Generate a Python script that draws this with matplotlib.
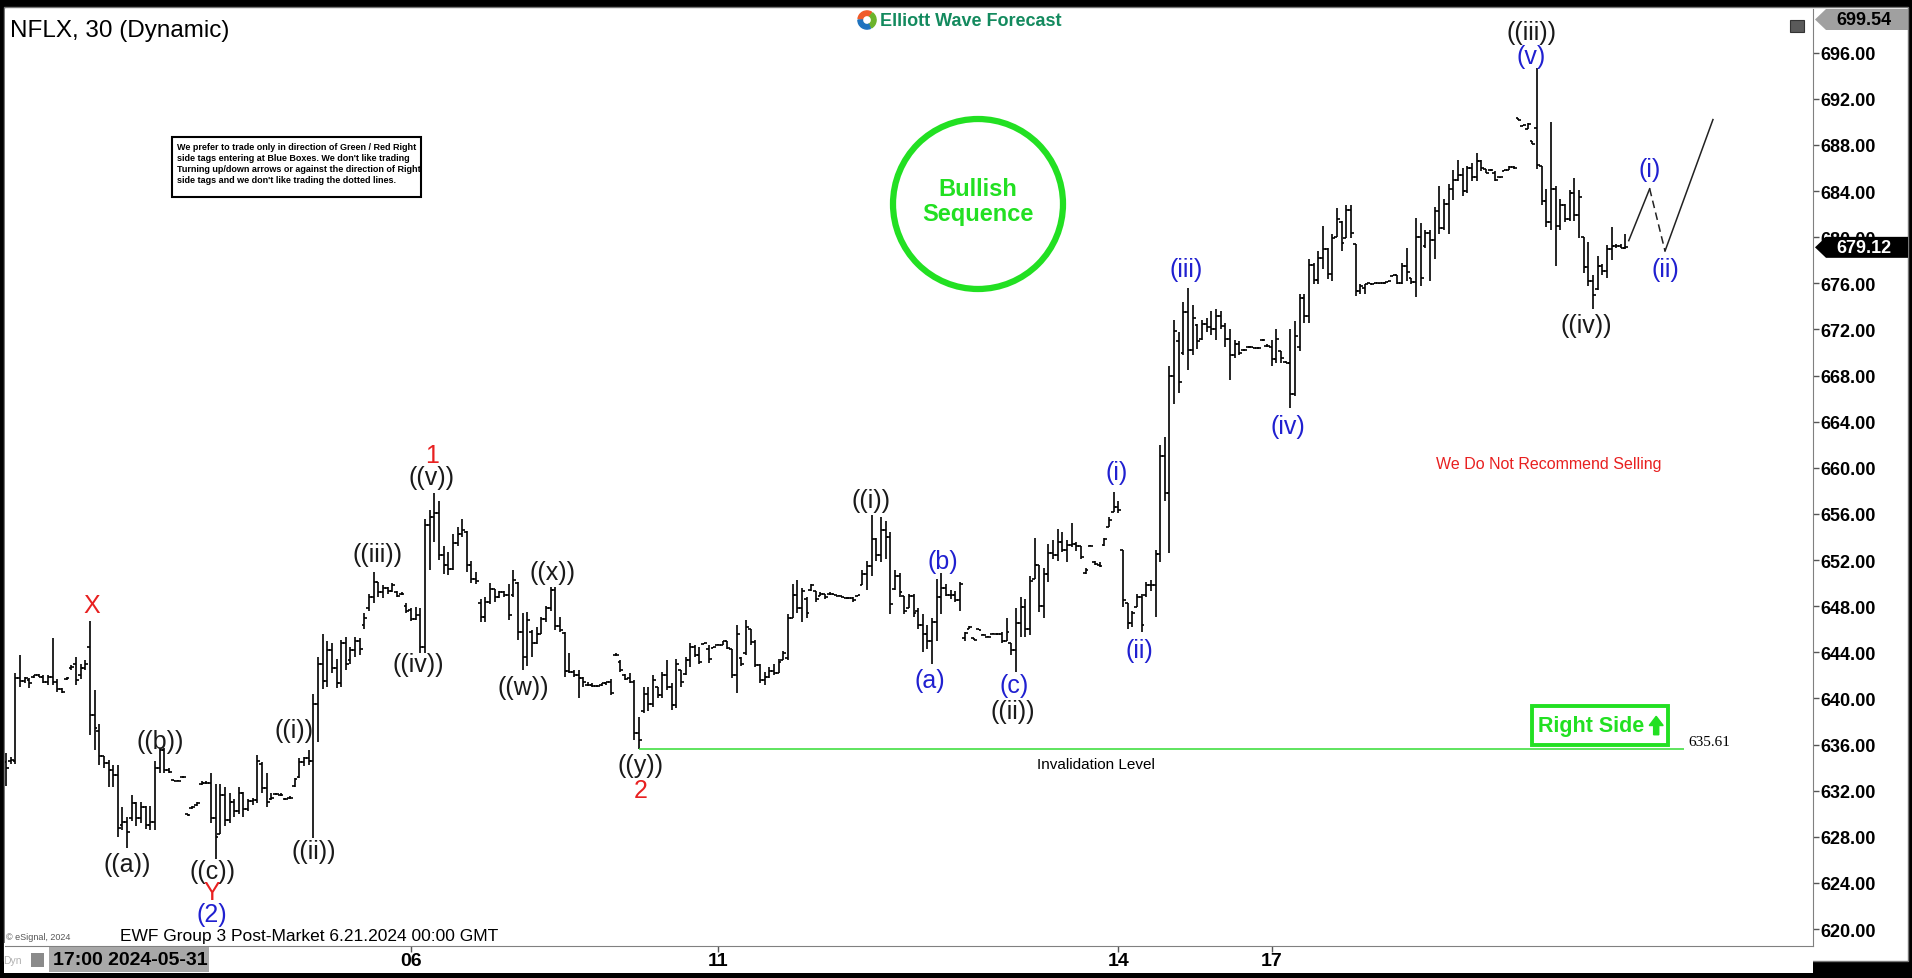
import numpy as np
import matplotlib.pyplot as plt
import matplotlib.patches as mpatches
import matplotlib.transforms as mtransforms

plt.rcParams['font.family'] = ['Liberation Sans', 'DejaVu Sans']

# NFLX 30 min bars: (open, high, low, close)
# 2024-05-31 17:00 -> 06-05
bars_0531 = [
    (634.5, 635.3, 632.4, 634.0), (634.6, 634.9, 634.3, 634.7), (634.6, 642.2, 634.3, 641.8),
    (641.8, 643.8, 641.0, 641.5), (641.5, 641.9, 641.3, 641.8), (641.6, 641.8, 640.9, 641.3),
    (641.9, 642.0, 641.8, 642.0), (642.0, 642.1, 641.9, 641.9), (641.9, 642.0, 641.3, 641.4),
    (641.4, 642.0, 641.2, 641.9), (641.9, 645.2, 641.2, 641.4), (641.4, 641.7, 640.6, 640.8),
    (640.8, 640.9, 640.5, 640.6), (641.7, 641.9, 641.6, 641.8), (642.6, 642.9, 642.5, 642.7),
    (643.0, 643.6, 641.2, 641.6), (642.0, 643.0, 641.7, 642.6), (642.6, 643.3, 642.5, 643.0),
    (644.5, 646.7, 636.8, 638.6), (638.6, 640.7, 635.5, 637.4), (637.2, 637.8, 634.2, 635.0),
    (635.0, 635.0, 634.0, 634.4), (634.4, 634.7, 632.3, 633.8), (633.8, 634.2, 632.3, 633.4),
    (633.4, 634.2, 628.0, 628.8), (629.0, 630.6, 628.6, 629.3), (629.3, 629.7, 627.0, 628.4),
    (629.6, 631.6, 629.4, 630.9), (630.9, 631.0, 628.9, 629.6), (629.6, 631.0, 629.2, 630.6),
    (630.6, 630.7, 628.7, 629.0), (629.0, 630.7, 628.6, 629.3), (629.3, 634.6, 628.6, 634.0),
    (634.0, 635.7, 633.5, 635.5), (635.5, 635.7, 633.5, 633.8), (633.8, 634.0, 633.5, 633.6),
    (632.9, 632.9, 632.8, 632.8), (632.8, 632.9, 632.8, 632.8), (633.2, 633.3, 633.1, 633.2),
    (630.0, 630.0, 629.8, 629.9), (630.5, 630.7, 630.4, 630.6), (630.8, 631.0, 630.7, 630.9),
    (632.6, 632.8, 632.5, 632.7), (632.7, 632.8, 632.6, 632.7), (632.7, 633.5, 629.2, 629.6),
    (629.6, 632.6, 626.1, 628.0), (628.2, 632.6, 628.2, 631.6), (631.6, 632.3, 628.9, 629.5),
    (629.5, 631.8, 629.2, 631.0), (631.0, 631.3, 629.7, 630.2), (630.2, 632.3, 630.0, 631.8),
    (631.8, 631.9, 629.7, 630.4), (630.4, 631.3, 630.2, 631.1), (631.1, 631.4, 630.8, 631.2),
    (631.2, 635.1, 630.9, 634.6), (634.3, 634.5, 631.8, 632.2), (632.2, 633.5, 630.6, 631.0),
    (631.3, 631.8, 631.2, 631.4), (631.7, 631.8, 631.6, 631.7), (631.6, 631.8, 631.5, 631.6),
    (631.3, 631.4, 631.2, 631.3), (631.4, 631.5, 631.3, 631.4), (632.4, 633.1, 632.3, 633.0),
    (633.2, 634.8, 633.1, 634.5), (634.5, 634.9, 634.1, 634.8), (634.8, 635.5, 634.2, 634.6),
    (634.6, 640.4, 627.9, 639.5), (639.5, 643.6, 636.2, 643.0), (643.0, 645.6, 640.8, 641.5),
    (641.5, 645.0, 641.0, 644.2), (644.2, 644.8, 642.2, 642.6), (642.6, 643.4, 640.9, 641.3),
    (641.3, 645.1, 641.0, 644.8), (644.8, 645.3, 642.5, 643.0), (643.3, 644.5, 643.0, 644.2),
    (644.2, 645.3, 643.6, 645.0), (645.0, 645.2, 643.8, 644.3), (646.4, 647.4, 646.0, 647.0),
    (647.8, 649.1, 647.6, 648.8), (648.8, 651.0, 648.3, 650.1), (650.1, 650.1, 648.8, 649.2),
    (649.2, 649.8, 648.7, 649.6), (649.6, 649.7, 649.1, 649.3), (649.3, 650.0, 649.2, 649.8),
    (649.2, 649.3, 648.8, 648.9), (649.1, 649.2, 649.0, 649.1), (648.0, 648.3, 647.4, 647.6),
]
# 06-06 -> 06-10
bars_0606 = [
    (647.7, 647.8, 646.7, 646.9), (646.9, 647.9, 646.8, 647.2), (647.2, 647.8, 643.9, 644.5),
    (644.5, 655.6, 643.9, 655.0), (655.0, 656.3, 651.1, 655.7), (655.7, 657.8, 653.6, 656.1),
    (656.1, 657.1, 652.0, 652.4), (652.4, 653.2, 650.8, 651.6), (651.6, 652.7, 650.7, 651.2),
    (651.2, 654.3, 651.1, 653.5), (653.5, 654.9, 653.2, 654.3), (654.3, 655.6, 654.0, 654.6),
    (654.4, 654.5, 651.0, 651.6), (651.6, 651.9, 650.0, 650.4), (650.4, 651.0, 649.9, 650.2),
    (648.3, 648.6, 646.6, 647.1), (647.1, 648.8, 646.6, 648.4), (648.4, 650.0, 648.2, 649.5),
    (649.5, 649.5, 648.4, 648.8), (648.8, 649.3, 648.7, 649.2), (649.2, 649.3, 648.8, 649.0),
    (649.0, 649.9, 646.8, 647.2), (649.0, 651.1, 648.8, 650.3), (650.0, 650.1, 645.1, 645.8),
    (645.8, 647.4, 642.5, 643.6), (643.6, 647.5, 642.8, 646.8), (645.8, 645.9, 643.6, 644.8),
    (644.8, 646.2, 644.7, 645.6), (645.6, 647.1, 645.6, 646.9), (646.9, 648.0, 646.6, 647.8),
    (647.8, 649.7, 647.6, 649.4), (649.4, 649.7, 645.9, 646.3), (646.3, 647.1, 645.8, 645.9),
    (645.7, 645.8, 641.9, 642.4), (642.4, 643.9, 642.2, 642.3), (642.3, 642.5, 641.9, 642.0),
    (642.0, 642.5, 640.0, 641.8), (641.8, 641.9, 641.0, 641.4), (641.2, 641.4, 641.1, 641.2),
    (641.2, 641.3, 641.0, 641.1), (641.1, 641.2, 641.0, 641.1), (641.2, 641.3, 641.1, 641.3),
    (641.3, 641.4, 641.2, 641.4), (641.4, 641.7, 640.3, 640.5), (643.8, 643.9, 643.7, 643.8),
    (643.2, 643.3, 642.3, 642.5), (642.0, 642.1, 641.6, 641.7), (641.8, 642.2, 641.3, 641.4),
    (641.4, 641.6, 636.4, 637.0), (637.0, 638.4, 635.61, 636.4), (638.9, 641.0, 638.7, 640.4),
    (640.4, 641.0, 638.9, 639.5), (639.5, 642.0, 639.3, 641.6), (641.0, 641.0, 640.0, 640.3),
    (640.3, 642.3, 640.0, 642.0), (642.0, 643.3, 640.7, 641.0), (641.0, 641.3, 639.0, 639.4),
    (639.4, 643.4, 639.2, 643.0), (642.5, 642.5, 641.0, 641.4), (642.1, 643.6, 642.0, 643.3),
    (643.3, 644.8, 642.7, 644.5), (644.5, 644.6, 643.6, 643.8), (643.8, 644.5, 643.0, 643.2),
    (644.7, 644.8, 644.7, 644.8), (644.3, 644.6, 643.1, 643.4), (644.4, 644.5, 644.4, 644.5),
]
# 06-11 -> 06-13
bars_0611 = [
    (644.6, 644.7, 644.6, 644.6), (644.6, 645.0, 644.6, 645.0), (645.0, 645.0, 644.3, 644.4),
    (644.3, 644.3, 641.8, 642.0), (642.0, 646.4, 640.5, 645.6), (643.5, 643.6, 642.8, 643.0),
    (643.9, 646.8, 643.8, 646.2), (646.0, 646.0, 644.6, 644.9), (644.9, 645.1, 642.7, 642.9),
    (642.9, 643.0, 641.3, 641.6), (641.6, 642.3, 641.2, 641.9), (641.9, 642.7, 641.8, 642.4),
    (642.4, 643.0, 642.0, 642.2), (642.2, 643.4, 642.2, 643.2), (643.3, 644.1, 643.3, 643.9),
    (643.5, 647.3, 643.3, 647.0), (647.0, 649.9, 647.0, 649.0), (649.0, 650.3, 647.4, 647.8),
    (647.8, 649.6, 646.6, 649.3), (648.6, 648.8, 647.0, 647.4), (649.4, 649.9, 649.3, 649.8),
    (649.3, 649.3, 648.4, 648.6), (648.9, 649.2, 648.9, 649.1), (649.1, 649.1, 648.6, 648.8),
    (649.1, 649.2, 649.0, 649.1), (649.1, 649.1, 649.0, 649.0), (648.9, 649.0, 648.9, 648.9),
    (648.8, 648.8, 648.7, 648.7), (648.7, 648.8, 648.6, 648.7), (648.7, 648.8, 648.4, 648.5),
    (648.9, 649.0, 648.9, 649.0), (649.8, 651.1, 649.8, 650.8), (650.8, 651.9, 649.4, 651.5),
    (651.5, 655.9, 650.6, 653.8), (653.8, 653.9, 651.9, 652.4), (652.4, 655.7, 651.8, 654.6),
    (654.6, 655.4, 652.1, 654.0), (654.0, 654.4, 647.3, 648.2), (649.5, 651.1, 649.4, 650.6),
    (650.6, 650.9, 648.8, 649.2), (648.9, 648.9, 647.3, 647.6), (647.8, 649.1, 647.8, 648.9),
    (648.9, 649.1, 647.1, 647.4), (647.6, 647.8, 646.0, 646.4), (646.4, 647.3, 644.0, 645.6),
    (645.6, 646.4, 644.3, 645.0), (645.0, 647.0, 643.0, 646.6), (646.6, 650.4, 645.0, 648.8),
    (648.8, 650.9, 647.3, 649.6), (649.6, 649.9, 648.9, 649.0), (649.0, 649.4, 648.6, 649.0),
    (649.0, 649.3, 648.4, 648.5), (648.5, 650.1, 647.6, 649.9), (645.2, 645.8, 645.0, 645.7),
    (646.0, 646.3, 646.0, 646.2), (645.2, 645.2, 645.1, 645.1), (646.0, 646.0, 645.9, 645.9),
    (645.5, 645.6, 645.5, 645.5), (645.3, 645.4, 645.3, 645.3), (645.6, 645.7, 645.6, 645.6),
    (645.6, 645.7, 645.5, 645.6), (645.6, 645.8, 644.8, 645.0), (645.0, 647.0, 645.0, 645.8),
    (644.8, 644.8, 643.8, 644.2), (644.2, 647.8, 642.3, 646.5), (646.5, 648.8, 645.3, 647.9),
    (647.9, 648.6, 645.3, 646.0), (646.0, 650.6, 645.5, 650.2), (650.4, 653.9, 650.4, 651.6),
    (651.6, 651.6, 647.5, 648.0), (648.0, 651.3, 647.0, 650.8), (650.8, 653.4, 650.1, 652.6),
    (652.6, 653.7, 652.1, 652.4), (652.4, 654.7, 651.9, 653.6), (653.6, 654.4, 652.7, 652.9),
    (652.9, 653.7, 651.8, 653.3), (653.3, 655.2, 653.1, 653.4), (653.4, 653.6, 652.8, 653.2),
    (653.2, 653.2, 652.1, 652.3), (650.9, 651.3, 650.8, 651.1), (653.2, 653.3, 653.2, 653.2),
    (651.8, 651.9, 651.6, 651.7), (651.6, 651.8, 651.4, 651.5), (653.3, 653.9, 653.2, 653.8),
    (654.9, 655.7, 654.9, 655.5), (656.2, 657.9, 656.2, 656.6),
]
# 06-14
bars_0614 = [
    (656.6, 657.1, 656.1, 656.3), (652.9, 652.9, 647.9, 648.5), (648.3, 648.3, 646.0, 646.5),
    (646.5, 647.6, 646.2, 647.4), (647.9, 649.1, 647.9, 648.8), (648.8, 649.1, 645.8, 646.4),
    (649.0, 650.1, 648.8, 649.8), (649.8, 650.3, 649.3, 649.8), (649.8, 652.9, 647.1, 652.5),
    (652.5, 662.0, 651.8, 661.0), (661.0, 662.7, 657.1, 657.8), (657.8, 668.8, 652.6, 668.0),
    (668.0, 672.8, 665.5, 671.9), (671.0, 671.8, 666.5, 667.4), (670.0, 674.4, 669.8, 673.5),
    (673.5, 675.6, 668.5, 670.2), (670.2, 674.1, 669.8, 673.0), (672.4, 672.5, 670.3, 671.0),
    (671.2, 672.8, 671.1, 672.5), (672.5, 673.0, 671.8, 672.2), (672.2, 673.6, 671.5, 672.0),
    (672.0, 673.8, 671.1, 673.2), (673.2, 673.6, 672.0, 672.3), (672.3, 672.6, 670.5, 671.2),
    (671.2, 672.0, 667.6, 669.8), (669.8, 671.1, 669.5, 670.7), (670.7, 671.0, 669.8, 670.0),
    (670.2, 670.3, 670.1, 670.2), (670.5, 670.6, 670.4, 670.5), (670.5, 670.5, 670.4, 670.4),
    (670.4, 670.5, 670.3, 670.4), (671.1, 671.2, 671.0, 671.1), (670.6, 670.7, 670.5, 670.6),
]
# 06-17 -> 06-20
bars_0617 = [
    (670.5, 671.1, 668.8, 669.4), (669.4, 672.0, 669.1, 671.2), (670.1, 670.1, 669.1, 669.5),
    (669.2, 669.3, 669.1, 669.1), (669.1, 672.0, 665.2, 666.4), (666.4, 672.7, 666.2, 671.4),
    (670.5, 675.1, 670.1, 674.7), (674.7, 675.1, 672.6, 673.2), (673.2, 678.1, 672.6, 677.6),
    (677.6, 677.8, 675.9, 676.3), (676.3, 678.8, 675.9, 678.2), (678.2, 681.0, 677.2, 679.0),
    (679.0, 679.1, 676.4, 676.8), (676.8, 680.3, 676.2, 679.9), (680.0, 682.5, 680.0, 681.6),
    (681.3, 681.4, 678.8, 679.5), (679.9, 682.8, 679.9, 682.4), (682.4, 682.8, 679.9, 680.4),
    (679.4, 679.4, 674.9, 675.3), (675.3, 675.9, 675.1, 675.8), (675.6, 675.9, 675.1, 675.9),
    (676.0, 676.0, 675.9, 675.9), (675.9, 676.0, 675.9, 676.0), (676.0, 676.0, 675.9, 676.0),
    (676.0, 676.1, 675.9, 676.0), (676.1, 676.2, 676.1, 676.2), (676.6, 676.7, 676.6, 676.7),
    (676.7, 676.7, 675.9, 676.0), (676.0, 677.8, 675.9, 677.5), (677.5, 679.1, 676.2, 677.0),
    (676.5, 676.5, 675.9, 676.1), (676.1, 681.7, 674.8, 680.0), (680.0, 681.2, 675.8, 676.5),
    (679.2, 680.6, 679.1, 680.4), (680.4, 680.6, 676.2, 679.8), (679.8, 682.6, 678.1, 682.3),
    (682.3, 684.4, 680.3, 680.8), (680.8, 683.3, 680.6, 682.9), (682.9, 684.6, 680.3, 684.2),
    (684.2, 685.8, 683.2, 685.0), (685.0, 686.7, 684.9, 685.4), (685.4, 686.0, 683.6, 684.0),
    (684.0, 686.2, 683.8, 686.0), (686.0, 686.4, 684.9, 685.2), (685.2, 687.3, 684.9, 686.6),
    (686.6, 686.7, 685.7, 686.0), (685.9, 685.9, 685.6, 685.6), (685.8, 685.9, 685.7, 685.8),
    (685.6, 685.7, 684.9, 685.0), (685.2, 685.2, 685.1, 685.2), (685.7, 685.8, 685.7, 685.8),
    (685.8, 686.2, 685.8, 686.1), (686.1, 686.2, 685.9, 686.0), (690.3, 690.3, 690.2, 690.2),
    (689.6, 689.7, 689.6, 689.7), (689.4, 689.9, 689.4, 689.8), (688.3, 688.3, 688.1, 688.1),
    (689.5, 694.7, 685.9, 686.3), (686.2, 686.2, 682.8, 683.1), (683.1, 684.2, 680.9, 681.3),
    (681.3, 690.0, 680.6, 684.2), (684.2, 684.4, 677.5, 681.0), (681.0, 683.3, 680.6, 682.8),
    (682.8, 682.9, 681.3, 681.6), (681.6, 684.1, 681.4, 683.8), (683.8, 685.1, 681.4, 681.9),
    (681.9, 684.1, 679.9, 683.5), (680.0, 680.0, 676.9, 677.4), (677.4, 679.6, 675.8, 676.2),
    (676.2, 676.7, 673.8, 675.0), (675.5, 678.4, 675.4, 677.5), (677.5, 677.7, 676.7, 677.1),
    (677.1, 679.3, 676.5, 679.0), (679.0, 680.9, 678.0, 679.2), (679.2, 679.4, 679.1, 679.2),
    (679.2, 679.4, 679.1, 679.1), (679.1, 680.3, 679.0, 679.12),
]

segments = [bars_0531, bars_0606, bars_0611, bars_0614, bars_0617]
seg_labels = ['17:00 2024-05-31', '06', '11', '14', '17']

top_price = 699.54
invalidation = 635.61

# wave counts: text, bar position, price, colour
BLK, BLU, RED = '#1a1a1a', '#2020d0', '#e82020'
wave_labels = [
    ('X', 18.4, 648.1, RED), ('((a))', 26.0, 625.6, BLK), ('((b))', 33.1, 636.3, BLK),
    ('((c))', 44.4, 625.0, BLK), ('Y', 44.2, 623.2, RED), ('(2)', 44.2, 621.3, BLU),
    ('((i))', 61.8, 637.3, BLK), ('((ii))', 66.2, 626.8, BLK), ('((iii))', 79.9, 652.5, BLK),
    ('((iv))', 88.6, 643.0, BLK), ('((v))', 91.5, 659.2, BLK), ('1', 91.5, 661.1, RED),
    ('((w))', 111.2, 641.0, BLK), ('((x))', 117.5, 651.0, BLK), ('((y))', 136.4, 634.2, BLK),
    ('2', 136.4, 632.1, RED), ('((i))', 185.8, 657.2, BLK), ('(a)', 198.4, 641.6, BLU),
    ('(b)', 201.3, 651.9, BLU), ('(c)', 216.6, 641.2, BLU), ('((ii))', 216.3, 638.9, BLK),
    ('(i)', 238.6, 659.6, BLU), ('(ii)', 243.6, 644.2, BLU), ('(iii)', 253.6, 677.2, BLU),
    ('(iv)', 275.4, 663.6, BLU), ('((iii))', 327.7, 697.8, BLK), ('(v)', 327.7, 695.7, BLU),
    ('((iv))', 339.6, 672.4, BLK), ('(i)', 353.2, 685.9, BLU), ('(ii)', 356.6, 677.2, BLU),
]

# projected path after the last bar (bars after last, price)
proj_offsets = [0.7, 5.2, 8.5, 18.8]
proj_prices = [679.7, 684.2, 678.8, 690.2]

info_text = ("We prefer to trade only in direction of Green / Red Right\n"
             "side tags entering at Blue Boxes. We don't like trading\n"
             "Turning up/down arrows or against the direction of Right\n"
             "side tags and we don't like trading the dotted lines.")

ohlc = np.array([b for seg in segments for b in seg])
opens, highs, lows, closes = ohlc.T
x = np.arange(len(ohlc))
last = x[-1]
starts = np.cumsum([0] + [len(s) for s in segments[:-1]])

W, H = 1912, 979
GREEN = '#22e022'


def fxy(px, py):
    return px / W, 1 - py / H


fig = plt.figure(figsize=(W / 100, H / 100), dpi=100, facecolor='black')
fig.add_artist(mpatches.Rectangle(fxy(4, 962), 1904 / W, 954 / H, transform=fig.transFigure,
                                  facecolor='white', edgecolor='#777777', lw=1, zorder=-2))
fig.add_artist(mpatches.Rectangle(fxy(4, 974), 1809 / W, 30 / H, transform=fig.transFigure,
                                  facecolor='white', edgecolor='none', zorder=-1))

ax = fig.add_axes([5 / W, 1 - 947 / H, 1808 / W, 937 / H])
ax.set_facecolor('white')

# ohlc bars
ax.vlines(x, lows, highs, color='black', lw=1.2)
ax.hlines(opens, x - 0.6, x, color='black', lw=1.2)
ax.hlines(closes, x, x + 0.6, color='black', lw=1.2)

ax.set_xlim(-0.25, last + 40.3)
ax.set_ylim(618.53, 699.79)

for s in ['left', 'top']:
    ax.spines[s].set_visible(False)
for s in ['right', 'bottom']:
    ax.spines[s].set_color('#808080')

ax.yaxis.tick_right()
yt = np.arange(620, 697, 4)
ax.set_yticks(yt)
ax.set_yticklabels([f'{v:.2f}' for v in yt], fontsize=13, fontweight='bold')
ax.tick_params(axis='y', direction='out', length=4, width=1, pad=1, color='#555555')
ax.set_xticks(starts[1:])
ax.set_xticklabels(seg_labels[1:], fontsize=14, fontweight='bold')
ax.tick_params(axis='x', direction='out', length=4, width=1, pad=0, color='#555555')

for txt, bx, by, c in wave_labels:
    ax.text(bx, by, txt, ha='center', va='center', fontsize=18, color=c)

# projection
px = last + np.array(proj_offsets)
ax.plot(px[:2], proj_prices[:2], color='#222222', lw=1.1)
ax.plot(px[1:3], proj_prices[1:3], color='#222222', lw=1.1, ls=(0, (5, 3)))
ax.plot(px[2:], proj_prices[2:], color='#222222', lw=1.1)

# invalidation level
y_bar = starts[1] + np.argmin(lows[starts[1]:starts[2]])
ax.hlines(invalidation, y_bar, last + 12.6, color='#33dd33', lw=1.1)
ax.text(234.2, 634.35, 'Invalidation Level', ha='center', va='center', fontsize=11)
ax.text(last + 13.6, 636.3, f'{invalidation:.2f}', ha='left', va='center', fontsize=11,
        family=['Liberation Serif', 'DejaVu Serif'])

ax.text(331.5, 660.4, 'We Do Not Recommend Selling', ha='center', va='center', fontsize=11.5,
        color=RED)

# right side tag
ax.add_patch(mpatches.Rectangle((328.0, 635.97), 29.2, 3.38, fill=False, edgecolor=GREEN, lw=2.8))
ax.text(340.6, 637.66, 'Right Side', ha='center', va='center', fontsize=15.5, fontweight='bold',
        color=GREEN)
ax.add_patch(mpatches.FancyArrow(354.6, 636.85, 0, 1.6, width=1.1, head_width=3.0, head_length=0.8,
                                 length_includes_head=True, color=GREEN))

# bullish sequence badge
fig.add_artist(mpatches.Ellipse(fxy(978, 205), 170 / W, 170 / H, transform=fig.transFigure,
                                fill=False, edgecolor=GREEN, lw=4.5))
fig.text(*fxy(978, 189), 'Bullish', ha='center', va='center', fontsize=17, fontweight='bold', color=GREEN)
fig.text(*fxy(978, 215), 'Sequence', ha='center', va='center', fontsize=17, fontweight='bold', color=GREEN)

# info box
fig.add_artist(mpatches.Rectangle(fxy(172, 198), 249 / W, 60 / H, transform=fig.transFigure,
                                  facecolor='white', edgecolor='black', lw=1.5))
fig.text(*fxy(177, 143), info_text, ha='left', va='top', fontsize=6.5, fontweight='bold',
         linespacing=1.3)

# header
fig.text(*fxy(10, 31), 'NFLX, 30 (Dynamic)', ha='left', va='center', fontsize=17.5)
fig.text(*fxy(880, 22), 'Elliott Wave Forecast', ha='left', va='center', fontsize=13,
         fontweight='bold', color='#138a5e')
ax_logo = fig.add_axes([857 / W, 1 - 31 / H, 20 / W, 20 / H])
ax_logo.set_xlim(-1.1, 1.1)
ax_logo.set_ylim(-1.1, 1.1)
ax_logo.set_aspect('equal')
ax_logo.axis('off')
for a0, a1, c in [(60, 180, '#f05a28'), (-60, 60, '#6cb42c'), (180, 300, '#1e73be')]:
    ax_logo.add_patch(mpatches.Wedge((0, 0), 1, a0, a1 - 8, width=0.5, color=c))
fig.add_artist(mpatches.Rectangle(fxy(1790, 33), 14 / W, 12 / H, transform=fig.transFigure,
                                  facecolor='#5a5a5a', edgecolor='#333333', lw=0.8))

# price tags on the axis
tag = [(1815, 20.5), (1826, 10), (1908, 10), (1908, 31), (1826, 31)]
fig.add_artist(mpatches.Polygon([fxy(a, b) for a, b in tag], closed=True, transform=fig.transFigure,
                                facecolor='#a0a0a0', edgecolor='none'))
fig.text(*fxy(1864, 20.5), f'{top_price:.2f}', ha='center', va='center', fontsize=13, fontweight='bold')
blend = mtransforms.blended_transform_factory(fig.transFigure, ax.transData)
lp = closes[-1]
hh = 0.91
fig.add_artist(mpatches.Polygon([(1815 / W, lp), (1826 / W, lp + hh), (1908 / W, lp + hh),
                                 (1908 / W, lp - hh), (1826 / W, lp - hh)], closed=True,
                                transform=blend, facecolor='black', edgecolor='none'))
fig.text(1864 / W, lp, f'{lp:.2f}', transform=blend, ha='center', va='center', fontsize=13,
         fontweight='bold', color='white')

# footer
fig.text(*fxy(6, 938), '© eSignal, 2024', ha='left', va='center', fontsize=6.5, color='#555555')
fig.text(*fxy(120, 937), 'EWF Group 3 Post-Market 6.21.2024 00:00 GMT', ha='left', va='center',
         fontsize=12.5)
fig.add_artist(mpatches.Rectangle(fxy(49, 973), 160 / W, 25 / H, transform=fig.transFigure,
                                  facecolor='#a8a8a8', edgecolor='none'))
fig.text(*fxy(53, 961), seg_labels[0], ha='left', va='center', fontsize=14, fontweight='bold')
fig.text(*fxy(3, 961), 'Dyn', ha='left', va='center', fontsize=7.5, color='#b0b0b0')
fig.add_artist(mpatches.Rectangle(fxy(31, 968), 13 / W, 14 / H, transform=fig.transFigure,
                                  facecolor='#8a8a8a', edgecolor='none'))

fig.savefig('out.png', dpi=100, facecolor='black')
